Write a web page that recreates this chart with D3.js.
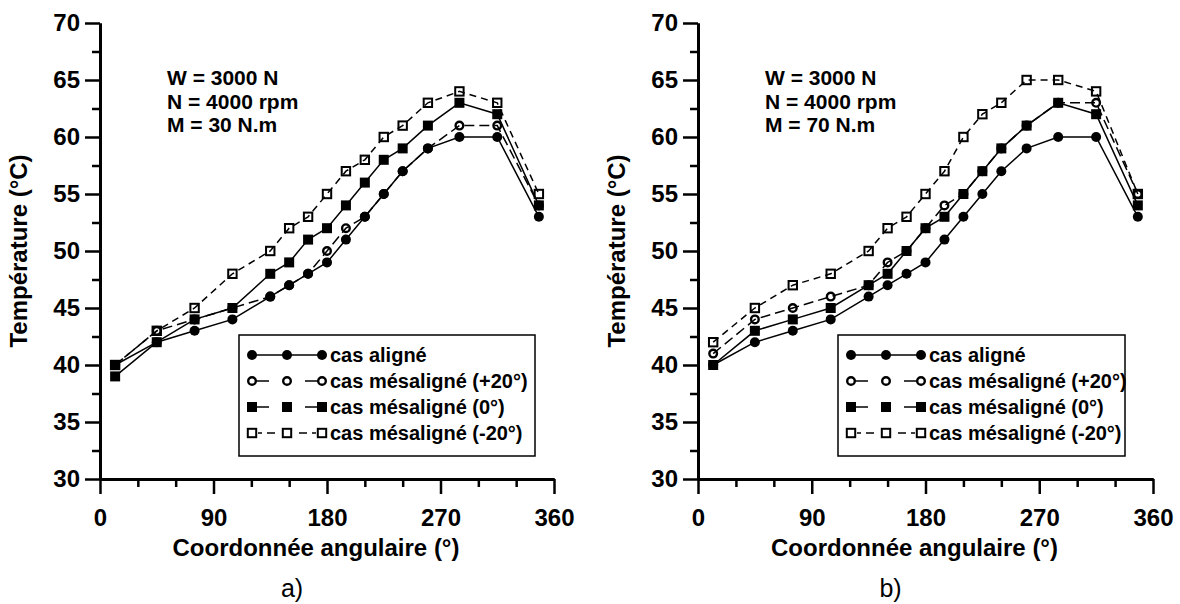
<!DOCTYPE html>
<html><head><meta charset="utf-8">
<script src="https://cdn.jsdelivr.net/npm/d3@7"></script>
<style>
html,body{margin:0;padding:0;background:#fff;}
svg{display:block;}
text{font-family:"Liberation Sans",Arial,sans-serif;}
</style></head>
<body>
<svg id="c" width="1180" height="604"></svg>
<script>
// ---- data ----
const angles = [12, 45, 75, 105, 135, 150, 165, 180, 195, 210, 225, 240, 260, 285, 315, 348];
// panel a) M = 30 N.m
const alignedA  = [40, 42, 43, 44, 46, 47, 48, 49, 51, 53, 55, 57, 59, 60, 60, 53];
const plus20A   = [40, 43, 44, 45, 46, 47, 48, 50, 52, 53, 55, 57, 59, 61, 61, 54];
const zeroA     = [39, 42, 44, 45, 48, 49, 51, 52, 54, 56, 58, 59, 61, 63, 62, 54];
const minus20A  = [40, 43, 45, 48, 50, 52, 53, 55, 57, 58, 60, 61, 63, 64, 63, 55];
// panel b) M = 70 N.m
const alignedB  = [40, 42, 43, 44, 46, 47, 48, 49, 51, 53, 55, 57, 59, 60, 60, 53];
const plus20B   = [41, 44, 45, 46, 47, 49, 50, 52, 54, 55, 57, 59, 61, 63, 63, 55];
const zeroB     = [40, 43, 44, 45, 47, 48, 50, 52, 53, 55, 57, 59, 61, 63, 62, 54];
const minus20B  = [42, 45, 47, 48, 50, 52, 53, 55, 57, 60, 62, 63, 65, 65, 64, 55];

const seriesNames = ["cas aligné", "cas mésaligné (+20°)", "cas mésaligné (0°)", "cas mésaligné (-20°)"];
const xMajor = [0, 90, 180, 270, 360];
const xMinor = [30, 60, 120, 150, 210, 240, 300, 330];
const yMajor = [30, 35, 40, 45, 50, 55, 60, 65, 70];
const yMinor = [32.5, 37.5, 42.5, 47.5, 52.5, 57.5, 62.5, 67.5];
const annotA = ["W = 3000 N", "N = 4000 rpm", "M = 30 N.m"];
const annotB = ["W = 3000 N", "N = 4000 rpm", "M = 70 N.m"];
const xTitle = "Coordonnée angulaire (°)";
const yTitle = "Température (°C)";

// ---- styles per series (order: aligned, +20, 0, -20) ----
const styles = [
  {marker:"circle", dash:null},
  {marker:"ocircle", dash:"10,5"},
  {marker:"square", dash:null},
  {marker:"osquare", dash:"7,5"}
];

const svg = d3.select("#c");

function drawMarker(g, type, x, y){
  if(type==="circle"){
    g.append("circle").attr("cx",x).attr("cy",y).attr("r",5).attr("fill","#000");
  } else if(type==="ocircle"){
    g.append("circle").attr("cx",x).attr("cy",y).attr("r",3.8).attr("fill","none").attr("stroke","#000").attr("stroke-width",2.4);
  } else if(type==="square"){
    g.append("rect").attr("x",x-5).attr("y",y-5).attr("width",10).attr("height",10).attr("fill","#000");
  } else {
    g.append("rect").attr("x",x-4.2).attr("y",y-4.2).attr("width",8.4).attr("height",8.4).attr("fill","none").attr("stroke","#000").attr("stroke-width",2);
  }
}

function seg(g, x1, x2, y){
  g.append("line").attr("x1",x1).attr("x2",x2).attr("y1",y).attr("y2",y)
    .attr("stroke","#000").attr("stroke-width",1.5);
}

function panel(opt){
  const x = d3.scaleLinear().domain([0,360]).range([opt.x0, opt.x1]);
  const y = d3.scaleLinear().domain([30,70]).range([479, 23]);
  const g = svg.append("g");

  // axes
  const ax = g.append("g").attr("transform","translate(0,479)")
    .call(d3.axisBottom(x).tickValues(xMajor).tickSize(15).tickPadding(15).tickSizeOuter(0));
  const axm = g.append("g").attr("transform","translate(0,479)")
    .call(d3.axisBottom(x).tickValues(xMinor).tickSize(8).tickFormat("").tickSizeOuter(0));
  const ay = g.append("g").attr("transform",`translate(${opt.x0},0)`)
    .call(d3.axisLeft(y).tickValues(yMajor).tickSize(15).tickPadding(5).tickSizeOuter(0));
  const aym = g.append("g").attr("transform",`translate(${opt.x0},0)`)
    .call(d3.axisLeft(y).tickValues(yMinor).tickSize(8).tickFormat("").tickSizeOuter(0));
  [ax,axm,ay,aym].forEach(a=>{
    a.select(".domain").attr("stroke","#000").attr("stroke-width",3);
    a.selectAll(".tick line").attr("stroke","#000").attr("stroke-width",2.5);
    a.selectAll(".tick text").attr("font-size",24).attr("font-weight","bold")
      .attr("fill","#000").attr("font-family","Liberation Sans, Arial, sans-serif");
  });

  // titles
  g.append("text").attr("x",(opt.x0+opt.x1)/2 - 11).attr("y",556)
    .attr("text-anchor","middle").attr("font-size",24).attr("font-weight","bold").text(xTitle);
  g.append("text").attr("transform",`translate(${opt.x0-73},251) rotate(-90)`)
    .attr("text-anchor","middle").attr("font-size",24).attr("font-weight","bold").text(yTitle);
  g.append("text").attr("x",(opt.x0+opt.x1)/2 - 35).attr("y",597)
    .attr("text-anchor","middle").attr("font-size",25)
    .attr("font-family","Liberation Serif, Times New Roman, serif").text(opt.label);

  // annotation
  opt.annot.forEach((t,i)=>{
    g.append("text").attr("x",opt.x0+67).attr("y",85+i*23.5)
      .attr("font-size",21).attr("font-weight","bold").text(t);
  });

  // series
  const line = d3.line().x((d,i)=>x(angles[i])).y(d=>y(d));
  const order = [1,3,2,0];
  order.forEach(k=>{
    const data = opt.series[k], st = styles[k];
    const p = g.append("path").datum(data).attr("d",line)
      .attr("fill","none").attr("stroke","#000").attr("stroke-width",1.5);
    if(st.dash) p.attr("stroke-dasharray",st.dash);
    const mg = g.append("g");
    data.forEach((d,i)=>drawMarker(mg, st.marker, x(angles[i]), y(d)));
  });

  // legend
  const lg = g.append("g");
  lg.append("rect").attr("x",opt.lx0).attr("y",335).attr("width",opt.lx1-opt.lx0).attr("height",121)
    .attr("fill","#fff").attr("stroke","#000").attr("stroke-width",1.5);
  const rows = [355, 381, 407, 433];
  seriesNames.forEach((n,k)=>{
    const st = styles[k], yy = rows[k], mx = [opt.lx0+13, opt.lx0+48, opt.lx0+83];
    if(k===0){ seg(lg, mx[0], mx[2], yy); }
    else if(k===3){ seg(lg, mx[0]+6, mx[0]+10, yy); seg(lg, mx[0]+15, mx[0]+23, yy);
                    seg(lg, mx[1]+12, mx[1]+20, yy); seg(lg, mx[2]-10, mx[2]-6, yy); }
    else { seg(lg, mx[0]+4, mx[0]+17, yy); seg(lg, mx[2]-17, mx[2]-4, yy); }
    mx.forEach(m=>drawMarker(lg, st.marker, m, yy));
    lg.append("text").attr("x",opt.lx0+91).attr("y",yy+7).attr("font-size",20)
      .attr("font-weight","bold").text(n);
  });
}

panel({x0:100, x1:554, label:"a)", annot:annotA, lx0:239, lx1:535,
  series:[alignedA, plus20A, zeroA, minus20A]});
panel({x0:698, x1:1153, label:"b)", annot:annotB, lx0:838, lx1:1125,
  series:[alignedB, plus20B, zeroB, minus20B]});
</script>
</body></html>
